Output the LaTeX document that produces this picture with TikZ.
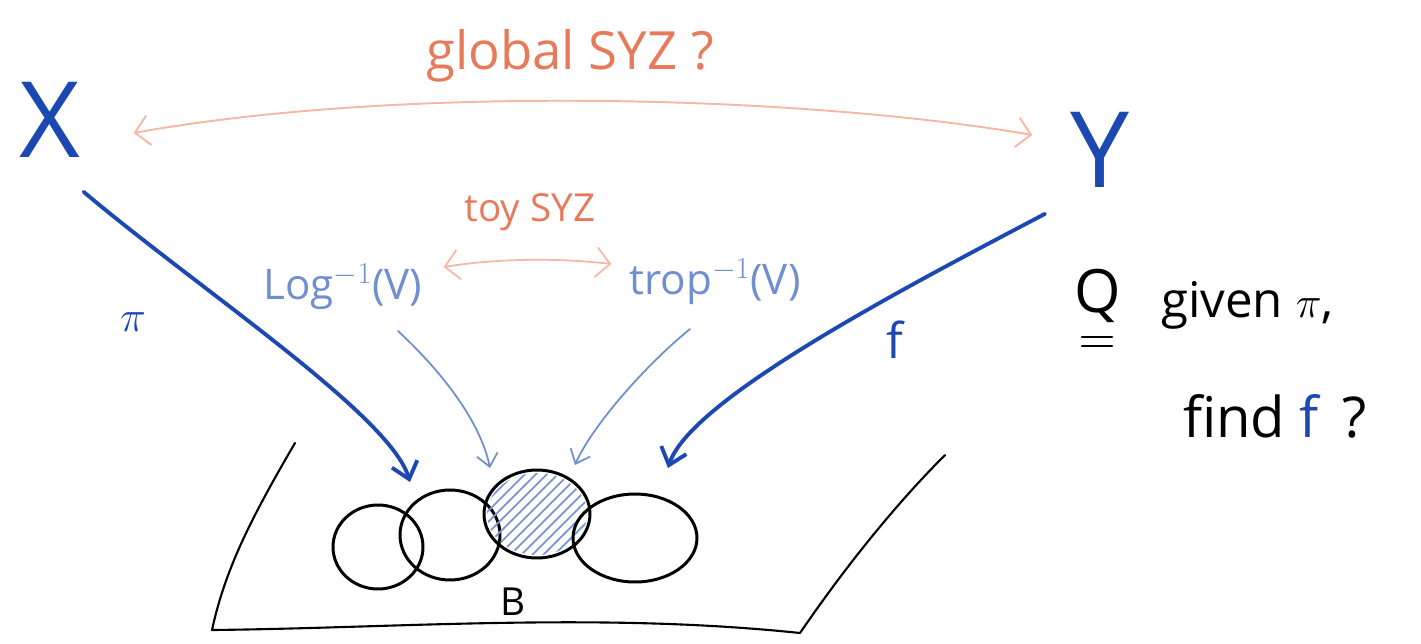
\documentclass[tikz,border=0pt]{standalone}
\usepackage{fontspec}
\setmainfont{Open Sans}
\usetikzlibrary{arrows.meta,calc,positioning,shapes.geometric}
\definecolor{pblue}{RGB}{28,72,178}
\definecolor{lblue}{RGB}{112,142,208}
\definecolor{lhatch}{RGB}{120,150,214}
\definecolor{sorange}{RGB}{232,122,92}
\definecolor{lsalmon}{RGB}{244,184,166}

\tikzset{
  bigletter/.style={text=pblue, font=\fontsize{60}{60}\selectfont},
  mapto/.style={pblue, line width=2.2pt, line cap=round, -{Straight Barb[length=9pt,width=15pt]}},
  thinmap/.style={lblue, line width=1pt, line cap=round, -{Straight Barb[length=7pt,width=12pt]}},
  syzarrow/.style={lsalmon, line width=1.1pt, line cap=round,
    {Straight Barb[length=8pt,width=17pt]}-{Straight Barb[length=8pt,width=17pt]}},
  blob/.style={draw, line width=1.7pt, ellipse, inner sep=0pt},
  hand/.style={font=\fontsize{28}{28}\selectfont},
}

\begin{document}
\begin{tikzpicture}[x=0.02cm, y=-0.02cm]
\useasboundingbox (0,0) rectangle (1421,643);

% the two spaces
\node[bigletter] (X) at (50,120) {X};
\node[bigletter] (Y) at (1100,150) {Y};
\node[text=sorange, font=\fontsize{30}{30}\selectfont] (globsyz) at (570,56) {global SYZ ?};
\draw[syzarrow] ([shift={(47,13)}]X.east) .. controls (400,85) and (800,95) .. ([shift={(-32,-15)}]Y.west);

% the local pieces
\node[text=sorange, font=\fontsize{22}{22}\selectfont] (toysyz) at (530,212) {toy SYZ};
\node[text=lblue, font=\fontsize{24}{24}\selectfont] (logv) at (343,287) {Log$^{-1}$(V)};
\node[text=lblue, font=\fontsize{24}{24}\selectfont] (tropv) at (715,282) {trop$^{-1}$(V)};
\draw[syzarrow, line width=1pt] ([shift={(15,-20)}]logv.east) .. controls (500,258) and (560,258) .. ([shift={(-12,-18)}]tropv.west);

% base B
\draw[line width=1.2pt, line cap=round, line join=round] (295,443) .. controls (250,520) and (225,570) .. (212,630)
  .. controls (400,628) and (600,612) .. (800,633) .. controls (850,560) and (900,500) .. (945,455);
\node[blob, minimum width=1.8cm, minimum height=1.68cm] (U1) at (378,547) {};
\node[blob, minimum width=2.0cm, minimum height=1.8cm] (U2) at (450,535) {};
\begin{scope}
  \clip (537,514) ellipse [x radius=1.0cm, y radius=0.82cm];
  \foreach \k in {0,...,20}
    \draw[lhatch, line width=1pt] (380+\k*11,575) -- +(115,-115);
\end{scope}
\node[blob, minimum width=2.12cm, minimum height=1.76cm] (U3) at (537,514) {};
\node[blob, minimum width=2.48cm, minimum height=1.76cm] (U4) at (635,538) {};
\node[font=\fontsize{22}{22}\selectfont] (B) at (513,602) {B};

% maps to B
\coordinate (pitip) at (410,482);
\coordinate (ftip) at (668,468);
\coordinate (logtip) at (490,468);
\coordinate (troptip) at (575,465);
\draw[mapto] ([shift={(-3,28)}]X.south east) .. controls (200,290) and (390,415) .. (pitip);
\draw[mapto] ([shift={(-55,20)}]Y.south) .. controls (900,290) and (690,400) .. (ftip);
\draw[thinmap] ([shift={(55,15)}]logv.south) .. controls (440,370) and (480,420) .. (logtip);
\draw[thinmap] ([shift={(-25,18)}]tropv.south) .. controls (640,370) and (590,430) .. (troptip);
\node[text=pblue, hand] (pilbl) at (133,322) {$\pi$};
\node[text=pblue, hand] (flbl) at (895,340) {f};

% question
\node[font=\fontsize{34}{34}\selectfont] (Q) at (1098,296) {Q};
\draw[line width=1.5pt, line cap=round] ([shift={(-16,8)}]Q.south) -- ([shift={(14,8)}]Q.south)
  ([shift={(-16,17)}]Q.south) -- ([shift={(14,17)}]Q.south);
\node[hand, anchor=west] (given) at (1155,305) {given $\pi$,};
\node[font=\fontsize{32}{32}\selectfont] (find) at (1275,416) {find {\color{pblue}f}\, ?};
\end{tikzpicture}
\end{document}
